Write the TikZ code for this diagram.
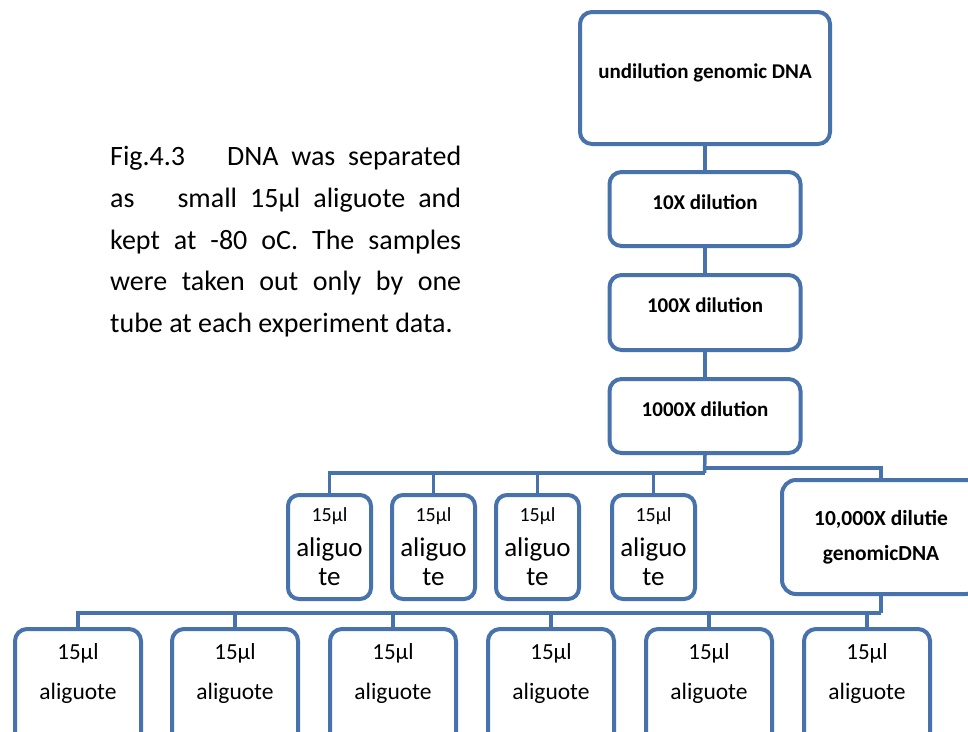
\documentclass[tikz,border=0pt]{standalone}
\usepackage{fontspec}
\setmainfont{Carlito}
\usepackage{tikz}
\usetikzlibrary{positioning}
\definecolor{boxblue}{RGB}{71,114,172}

\begin{document}
\begin{tikzpicture}[x=1pt, y=-1pt,
  stage/.style={draw=boxblue, line width=4pt, rounded corners=12pt, fill=white,
    font=\bfseries\fontsize{21}{25}\selectfont, text height=8pt, text depth=8pt},
  tube/.style={draw=boxblue, line width=4pt, rounded corners=11pt, fill=white,
    minimum width=83pt, minimum height=104pt, align=center, inner sep=0pt,
    font=\fontsize{27}{29}\selectfont},
  vial/.style={draw=boxblue, line width=4pt, rounded corners=12pt, fill=white,
    minimum width=126pt, minimum height=130pt},
  vialtext/.style={anchor=north, align=center, inner sep=0pt, yshift=-16pt,
    font=\fontsize{23.5}{40}\selectfont},
  link/.style={draw=boxblue, line width=3.5pt}]

  \useasboundingbox (0,0) rectangle (968,731);
  \clip (0,0) rectangle (968,731);

  \node[anchor=north west, inner sep=0pt, text width=351pt, align=justify,
    font=\fontsize{28}{41.7}\selectfont] (note) at (110,146) {%
    \noindent\hyphenpenalty=10000
    Fig.4.3\hspace{42pt}DNA was separated\linebreak
    as\hspace{43pt}small 15µl aliguote and\linebreak
    kept at -80 oC. The samples\linebreak
    were taken out only by one\linebreak
    tube at each experiment data.};

  \node[stage, minimum width=250pt, minimum height=132pt] (stock) at (705,78) {undilution genomic DNA};
  \node[stage, minimum width=191pt, minimum height=74pt, below=24pt of stock] (dil10) {10X dilution};
  \node[stage, minimum width=191pt, minimum height=75pt, below=25pt of dil10] (dil100) {100X dilution};
  \node[stage, minimum width=191pt, minimum height=74pt, below=25pt of dil100] (dil1000) {1000X dilution};

  \foreach \i/\x in {1/329.5, 2/433.5, 3/537.5, 4/653.5}
    \node[tube] (tubeA\i) at (\x,547) {{\fontsize{20}{20}\selectfont 15µl}\\[6pt] aliguo\\ te};

  \node[draw=boxblue, line width=4pt, rounded corners=14pt, fill=white, align=center,
    minimum width=198pt, minimum height=114pt,
    font=\bfseries\fontsize{21.5}{35}\selectfont] (dil10k) at (881,537) {10,000X dilutie\\ genomicDNA};

  \foreach \i/\x in {1/78, 2/235, 3/393, 4/551, 5/709, 6/867}
    \node[vial, label={[vialtext]north:{\fontsize{23}{23}\selectfont 15µl}\\ aliguote}] (tubeB\i) at (\x,694) {};

  \coordinate (upbus) at (704.5,473);
  \coordinate (rightbus) at (704.5,468);
  \coordinate (lowbus) at (881,613);

  \draw[link] (stock.south) -- (dil10.north);
  \draw[link] (dil10.south) -- (dil100.north);
  \draw[link] (dil100.south) -- (dil1000.north);
  \draw[link] (dil1000.south) -- (upbus);
  \foreach \i in {1,...,4}
    \draw[link] (upbus) -| (tubeA\i.north);
  \draw[link] (rightbus) -| (dil10k.north);
  \draw[link] (dil10k.south) -- (lowbus);
  \foreach \i in {1,...,6}
    \draw[link] (lowbus) -| (tubeB\i.north);
\end{tikzpicture}
\end{document}
